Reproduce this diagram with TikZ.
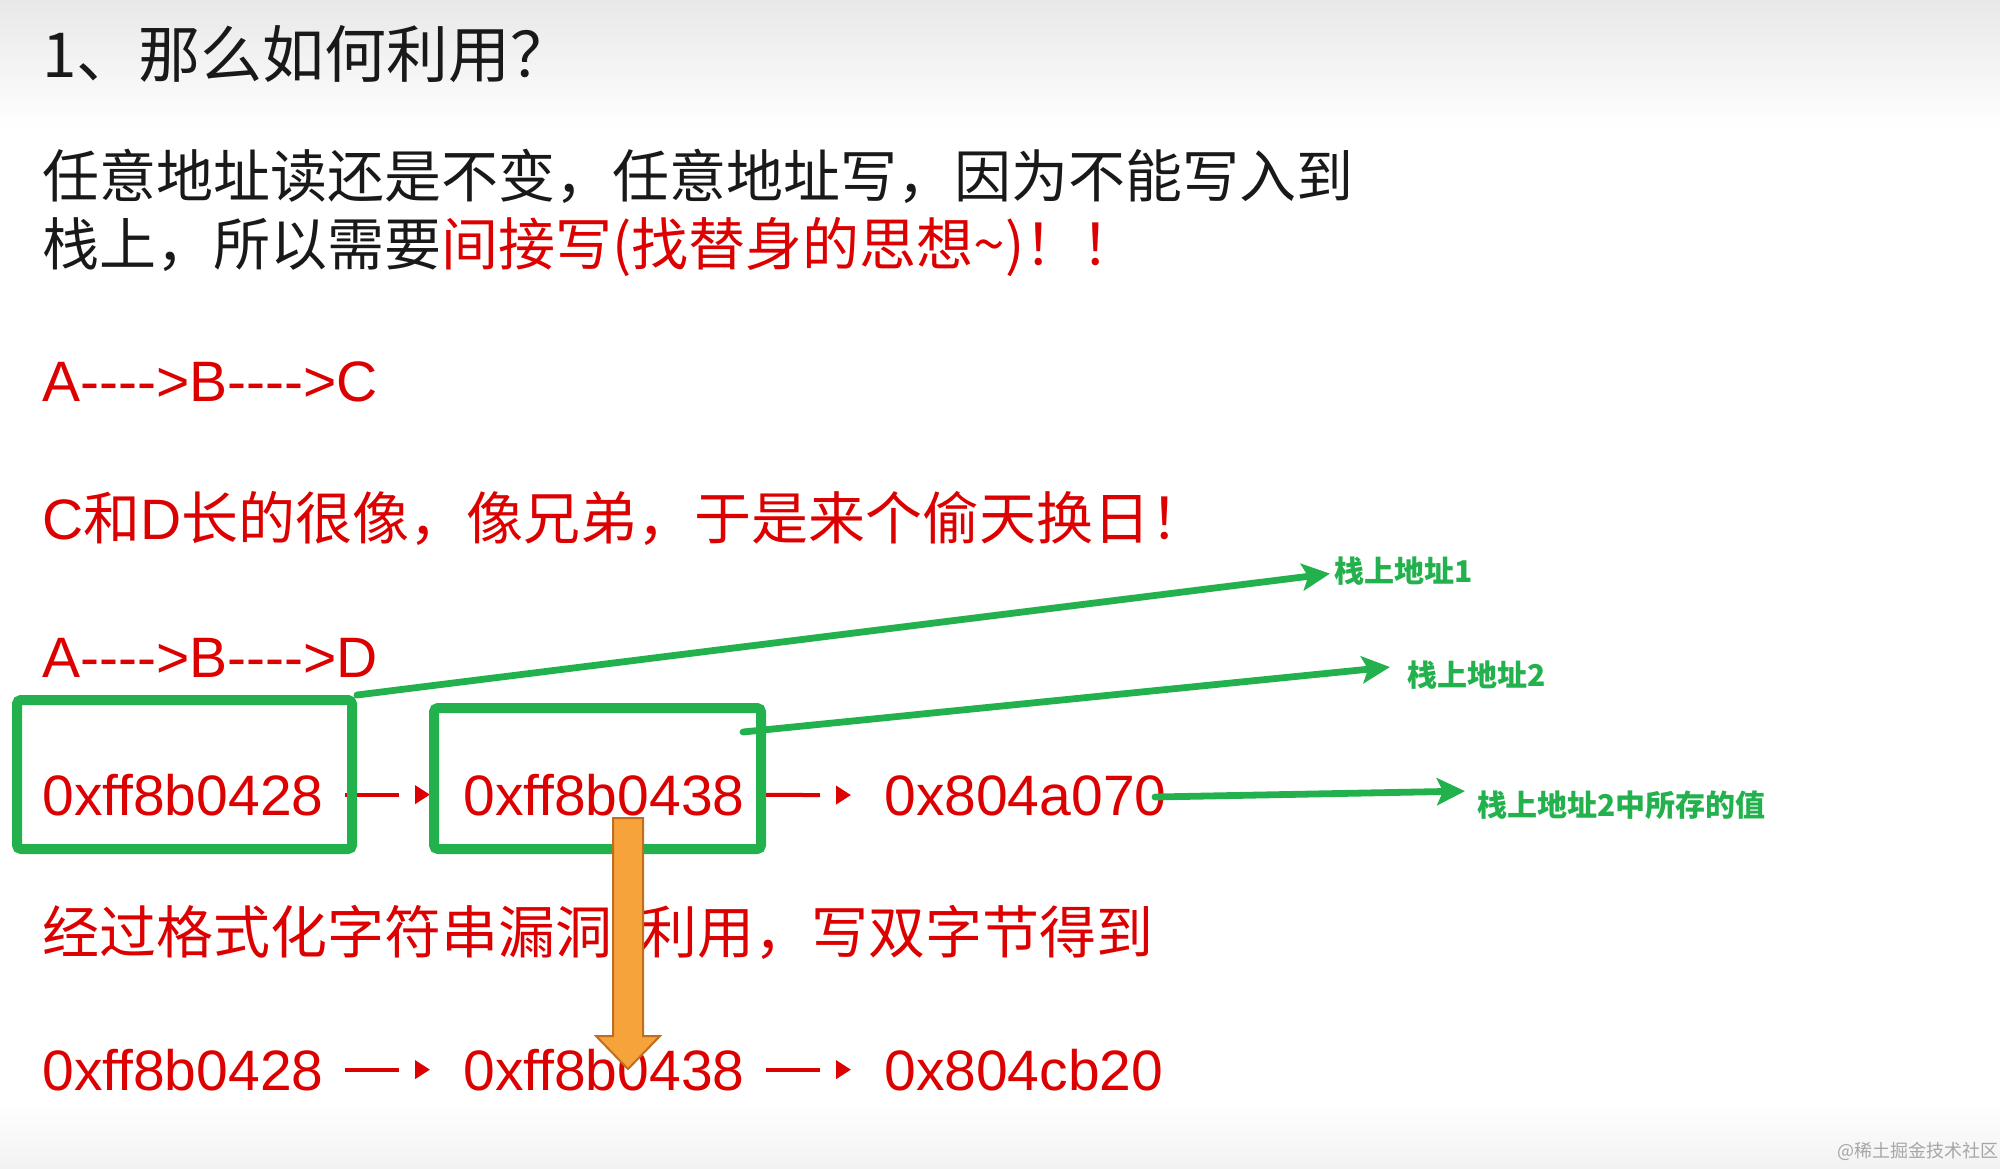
\documentclass[tikz,border=0pt]{standalone}
\usepackage{fontspec}
\setmainfont{Liberation Sans}[Ligatures=TeXOff]
\newfontfamily\zhfont{Noto Sans CJK SC}
\usetikzlibrary{arrows.meta}
\definecolor{mred}{RGB}{220,0,0}
\definecolor{mgreen}{RGB}{34,177,76}
\definecolor{morange}{RGB}{247,163,60}
\definecolor{morline}{RGB}{190,110,30}
\definecolor{mtext}{RGB}{25,25,25}
\newcommand\zh[1]{{\zhfont\fontsize{28.5pt}{30pt}\selectfont #1}}
\tikzset{
 link/.style={color=mred, line width=2pt, dash pattern=on 27pt off 20pt,
   shorten <=10.5pt, shorten >=16.5pt, -{Triangle[length=7.5pt,width=9pt]}},
 glink/.style={color=mgreen, line width=3.4pt, line cap=round,
   -{Stealth[length=14pt,width=13.5pt,inset=3pt]}}
}

\begin{document}
\begin{tikzpicture}[x=0.5pt,y=-0.5pt]
 \useasboundingbox (0,0) rectangle (2000,1168);
 \shade[top color=black!9, bottom color=white] (0,0) rectangle (2000,130);
 \shade[top color=white, bottom color=black!5] (0,1100) rectangle (2000,1168);
 \node[anchor=base west, inner sep=0, text=mtext, font=\zhfont\fontsize{31pt}{33pt}\selectfont] (title) at (42,77) {1、那么如何利用？};
 \begin{scope}[every node/.style={anchor=base west, inner sep=0, font=\zhfont\fontsize{28.5pt}{30pt}\selectfont}]
  \node[text=mtext] (l1) at (42,197) {任意地址读还是不变，任意地址写，因为不能写入到};
  \node[text=mtext] (l2) at (42,265) {栈上，所以需要\textcolor{mred}{间接写(找替身的思想\textasciitilde)！！}};
  \node[text=mred] (fmt) at (42,953) {经过格式化字符串漏洞\hspace{0.5em}利用，写双字节得到};
 \end{scope}
 \begin{scope}[every node/.style={anchor=base west, inner sep=0, text=mred, font=\fontsize{28.5pt}{30pt}\selectfont}]
  \node (abc) at (42,401) {A---->B---->C};
  \node (cd) at (42,539) {C\zh{和}D\zh{长的很像，像兄弟，于是来个偷天换日！}};
  \node (abd) at (42,677) {A---->B---->D};
  \node (a1) at (42,815) {0xff8b0428};
  \node (a2) at (463,815) {0xff8b0438};
  \node (a3) at (884,815) {0x804a070};
  \node (b1) at (42,1090) {0xff8b0428};
  \node (b2) at (463,1090) {0xff8b0438};
  \node (b3) at (884,1090) {0x804cb20};
 \end{scope}
 \path[link] (a1) edge (a2) (a2) edge (a3) (b1) edge (b2) (b2) edge (b3);
 \begin{scope}[every node/.style={draw=mgreen, line width=5pt, rounded corners=2pt, inner sep=0}]
  \node[minimum width=167.5pt, minimum height=74.5pt] (box1) at (184.5,774.5) {};
  \node[minimum width=163.5pt, minimum height=70.5pt] (box2) at (597.5,778.5) {};
 \end{scope}
 \begin{scope}[every node/.style={anchor=base west, inner sep=0, text=mgreen, font=\zhfont\bfseries\fontsize{15pt}{16pt}\selectfont}]
  \node (s1) at (1334,582) {栈上地址1};
  \node (s2) at (1407,686) {栈上地址2};
  \node (s3) at (1477,816) {栈上地址2中所存的值};
 \end{scope}
 \coordinate (p2) at (743,732);
 \coordinate (p3) at (1155,797);
 \path[glink] (box1.north east) edge ([xshift=-2pt,yshift=-1.5pt]s1.west)
  (p2) edge ([xshift=-8.5pt,yshift=3.8pt]s2.west)
  (p3) edge ([xshift=-6pt,yshift=6.8pt]s3.west);
 \filldraw[fill=morange, draw=morline, line width=1pt] (613,818) -- (643,818) -- (643,1036) -- (660,1036) -- (628,1069) -- (596,1036) -- (613,1036) -- cycle;
 \node[anchor=base west, inner sep=0, text=black!35, font=\zhfont\fontsize{9pt}{10pt}\selectfont] (mark) at (1837,1157) {@稀土掘金技术社区};
\end{tikzpicture}
\end{document}
